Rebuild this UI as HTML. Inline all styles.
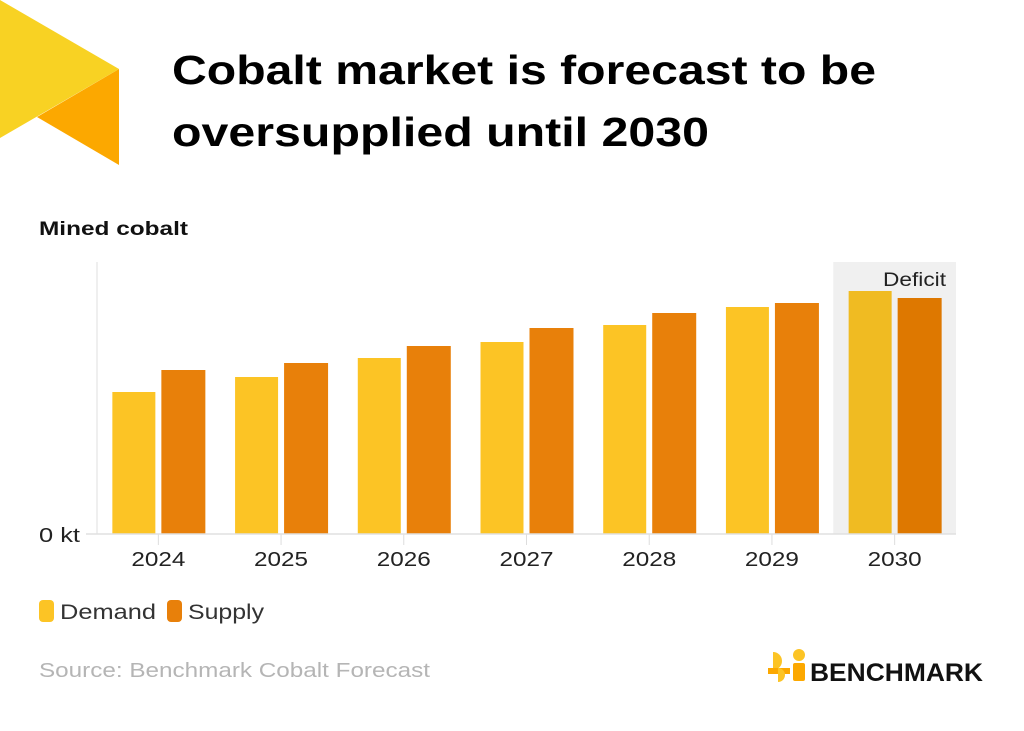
<!DOCTYPE html>
<html><head><meta charset="utf-8"><style>
body{margin:0;background:#fff;font-family:"Liberation Sans",sans-serif}
#wrap{position:relative;width:1024px;height:731px;overflow:hidden;background:#fff}
</style></head><body>
<div id="wrap">
<svg width="1024" height="731" style="position:absolute;left:0;top:0">
<polygon points="37,117 119,69 119,165" fill="#fca800"/>
<polygon points="0,0 119,69 0,138" fill="#f8d223"/>
<text x="172" y="84" font-size="41" font-weight="bold" fill="#000" textLength="704" lengthAdjust="spacingAndGlyphs">Cobalt market is forecast to be</text>
<text x="172" y="146" font-size="41" font-weight="bold" fill="#000" textLength="537" lengthAdjust="spacingAndGlyphs">oversupplied until 2030</text>
<text x="39" y="235" font-size="19" font-weight="bold" fill="#111" textLength="149" lengthAdjust="spacingAndGlyphs">Mined cobalt</text>
<g id="plot"></g>
<text x="39" y="677" font-size="20" fill="#b5b5b5" textLength="391" lengthAdjust="spacingAndGlyphs">Source: Benchmark Cobalt Forecast</text>
<g>
<path d="M773,652 a9,9 0 0 1 0,18 z" fill="#fcc425"/>
<circle cx="799" cy="655" r="6" fill="#fcc425"/>
<rect x="793" y="663" width="12" height="18" rx="2" fill="#fca800"/>
<path d="M768,668 h22 v6 h-22 z" fill="#fca800"/>
<path d="M778,668 a7,7 0 0 1 0,14 z" fill="#fcc425"/>
<text x="810" y="681" font-size="25" font-weight="bold" fill="#111" textLength="173" lengthAdjust="spacingAndGlyphs">BENCHMARK</text>
</g>
</svg>
</div>
<script>
const years=["2024","2025","2026","2027","2028","2029","2030"];
const demand=[142,157,176,192,209,227,243];
const supply=[164,171,188,206,221,231,236];
const yMax=272;
const NS="http://www.w3.org/2000/svg";
const g=document.getElementById('plot');
const x0=97,x1=956,yB=534,yT=262;
const bw=(x1-x0)/years.length;
const y=v=>yB-(v/yMax)*(yB-yT);
function mk(t,a){const e=document.createElementNS(NS,t);for(const k in a)e.setAttribute(k,a[k]);g.appendChild(e);return e;}
const sh=mk('rect',{x:x0+bw*6,y:yT,width:bw,height:yB-yT,fill:'#f0f0f0'});


const gl=mk('line',{x1:x0,y1:yT,x2:x0,y2:yB,stroke:'#eaeaea','stroke-width':1.5});


const dt=mk('text',{x:883,y:286,'font-size':19,fill:'#222',textLength:63,lengthAdjust:'spacingAndGlyphs'});dt.textContent='Deficit';


years.forEach((yr,i)=>{
 const c=x0+bw*(i+0.5);const last=i===6;
 const d=mk('rect',{x:c-46,y:y(demand[i]),width:43,height:yB-y(demand[i]),fill:last?'#f0bb22':'#fcc425'});
 
 
 const s=mk('rect',{x:c+3,y:y(supply[i]),width:44,height:yB-y(supply[i]),fill:last?'#de7800':'#e8800a'});
 
 
 const tk=mk('line',{x1:c,y1:yB,x2:c,y2:545,stroke:'#ddd','stroke-width':1});
 
 
 const tl=mk('text',{x:c-27,y:566,'font-size':20,fill:'#222',textLength:54,lengthAdjust:'spacingAndGlyphs'});tl.textContent=yr;
 
 
});
const base=mk('line',{x1:86,y1:yB,x2:x1,y2:yB,stroke:'#e0e0e0','stroke-width':1.5});


const zl=mk('text',{x:39,y:542,'font-size':20,fill:'#222',textLength:41,lengthAdjust:'spacingAndGlyphs'});zl.textContent='0 kt';


[[39,'#fcc425','Demand',96],[167,'#e8800a','Supply',76]].forEach(([lx,col,lab,w])=>{
 const r=mk('rect',{x:lx,y:600,width:15,height:22,rx:4,fill:col});
 
 
 const t=mk('text',{x:lx+21,y:619,'font-size':21,fill:'#333',textLength:w,lengthAdjust:'spacingAndGlyphs'});t.textContent=lab;
 
 
});
</script>
</body></html>
